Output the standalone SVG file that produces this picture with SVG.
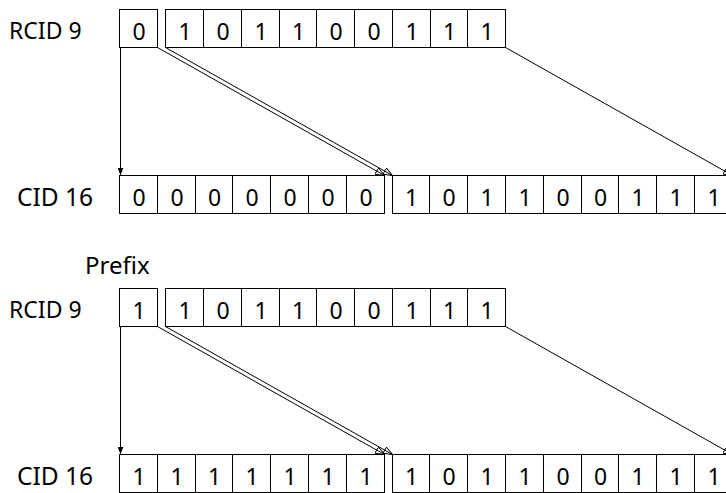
<svg xmlns="http://www.w3.org/2000/svg" width="726" height="493" viewBox="0 0 726 493">
<style>
.cell{fill:#fff;stroke:#000;stroke-width:1}
.bit{font-family:"Noto Sans","Liberation Sans",sans-serif;font-size:23px;fill:#000;text-anchor:middle}
.lbl{font-family:"Noto Sans","Liberation Sans",sans-serif;fill:#000}
.ln{fill:none;stroke:#000;stroke-width:1}
</style>
<defs>
<marker id="af" viewBox="0 0 8 6" refX="8" refY="3" markerWidth="8" markerHeight="6" markerUnits="userSpaceOnUse" orient="auto"><path d="M0,0 L8,3 L0,6 z" fill="#000"/></marker>
<marker id="ao" viewBox="0 0 10 8" refX="9.5" refY="4" markerWidth="10" markerHeight="8" markerUnits="userSpaceOnUse" orient="auto"><path d="M0.5,0.5 L9.5,4 L0.5,7.5 z" fill="none" stroke="#000" stroke-width="1"/></marker>
</defs>

<!-- top half -->
<g id="label-rcid-a"><text class="lbl" x="9" y="39" font-size="23">RCID 9</text></g>
<g id="rcid-a-sign">
<rect class="cell" x="119.5" y="9.5" width="38" height="38"/>
<text class="bit" x="139" y="40">0</text>
</g>
<g id="rcid-a-rest">
<rect class="cell" x="165.5" y="9.5" width="38" height="38"/><text class="bit" x="185" y="40">1</text>
<rect class="cell" x="203.5" y="9.5" width="38" height="38"/><text class="bit" x="223" y="40">0</text>
<rect class="cell" x="241.5" y="9.5" width="38" height="38"/><text class="bit" x="261" y="40">1</text>
<rect class="cell" x="279.5" y="9.5" width="37" height="38"/><text class="bit" x="298.5" y="40">1</text>
<rect class="cell" x="316.5" y="9.5" width="38" height="38"/><text class="bit" x="336" y="40">0</text>
<rect class="cell" x="354.5" y="9.5" width="38" height="38"/><text class="bit" x="374" y="40">0</text>
<rect class="cell" x="392.5" y="9.5" width="38" height="38"/><text class="bit" x="412" y="40">1</text>
<rect class="cell" x="430.5" y="9.5" width="37" height="38"/><text class="bit" x="449.5" y="40">1</text>
<rect class="cell" x="467.5" y="9.5" width="38" height="38"/><text class="bit" x="487" y="40">1</text>
</g>

<g id="label-cid-a"><text class="lbl" x="17" y="206" font-size="24.5">CID 16</text></g>
<g id="cid-a-ext">
<rect class="cell" x="119.5" y="175.5" width="38" height="38"/><text class="bit" x="139" y="206">0</text>
<rect class="cell" x="157.5" y="175.5" width="38" height="38"/><text class="bit" x="177" y="206">0</text>
<rect class="cell" x="195.5" y="175.5" width="37" height="38"/><text class="bit" x="214.5" y="206">0</text>
<rect class="cell" x="232.5" y="175.5" width="38" height="38"/><text class="bit" x="252" y="206">0</text>
<rect class="cell" x="270.5" y="175.5" width="38" height="38"/><text class="bit" x="290" y="206">0</text>
<rect class="cell" x="308.5" y="175.5" width="38" height="38"/><text class="bit" x="328" y="206">0</text>
<rect class="cell" x="346.5" y="175.5" width="38" height="38"/><text class="bit" x="366" y="206">0</text>
</g>
<g id="cid-a-rest">
<rect class="cell" x="392.5" y="175.5" width="37" height="38"/><text class="bit" x="411.5" y="206">1</text>
<rect class="cell" x="429.5" y="175.5" width="38" height="38"/><text class="bit" x="449" y="206">0</text>
<rect class="cell" x="467.5" y="175.5" width="38" height="38"/><text class="bit" x="487" y="206">1</text>
<rect class="cell" x="505.5" y="175.5" width="38" height="38"/><text class="bit" x="525" y="206">1</text>
<rect class="cell" x="543.5" y="175.5" width="38" height="38"/><text class="bit" x="563" y="206">0</text>
<rect class="cell" x="581.5" y="175.5" width="37" height="38"/><text class="bit" x="600.5" y="206">0</text>
<rect class="cell" x="618.5" y="175.5" width="38" height="38"/><text class="bit" x="638" y="206">1</text>
<rect class="cell" x="656.5" y="175.5" width="38" height="38"/><text class="bit" x="676" y="206">1</text>
<rect class="cell" x="694.5" y="175.5" width="38" height="38"/><text class="bit" x="714" y="206">1</text>
</g>

<!-- bottom half -->
<g id="label-prefix"><text class="lbl" x="85" y="274" font-size="24">Prefix</text></g>
<g id="label-rcid-b"><text class="lbl" x="9" y="318" font-size="23">RCID 9</text></g>
<g id="rcid-b-sign">
<rect class="cell" x="119.5" y="288.5" width="38" height="38"/>
<text class="bit" x="139" y="319">1</text>
</g>
<g id="rcid-b-rest">
<rect class="cell" x="165.5" y="288.5" width="38" height="38"/><text class="bit" x="185" y="319">1</text>
<rect class="cell" x="203.5" y="288.5" width="38" height="38"/><text class="bit" x="223" y="319">0</text>
<rect class="cell" x="241.5" y="288.5" width="38" height="38"/><text class="bit" x="261" y="319">1</text>
<rect class="cell" x="279.5" y="288.5" width="37" height="38"/><text class="bit" x="298.5" y="319">1</text>
<rect class="cell" x="316.5" y="288.5" width="38" height="38"/><text class="bit" x="336" y="319">0</text>
<rect class="cell" x="354.5" y="288.5" width="38" height="38"/><text class="bit" x="374" y="319">0</text>
<rect class="cell" x="392.5" y="288.5" width="38" height="38"/><text class="bit" x="412" y="319">1</text>
<rect class="cell" x="430.5" y="288.5" width="37" height="38"/><text class="bit" x="449.5" y="319">1</text>
<rect class="cell" x="467.5" y="288.5" width="38" height="38"/><text class="bit" x="487" y="319">1</text>
</g>

<g id="label-cid-b"><text class="lbl" x="17" y="485" font-size="24.5">CID 16</text></g>
<g id="cid-b-ext">
<rect class="cell" x="119.5" y="454.5" width="38" height="38"/><text class="bit" x="139" y="485">1</text>
<rect class="cell" x="157.5" y="454.5" width="38" height="38"/><text class="bit" x="177" y="485">1</text>
<rect class="cell" x="195.5" y="454.5" width="37" height="38"/><text class="bit" x="214.5" y="485">1</text>
<rect class="cell" x="232.5" y="454.5" width="38" height="38"/><text class="bit" x="252" y="485">1</text>
<rect class="cell" x="270.5" y="454.5" width="38" height="38"/><text class="bit" x="290" y="485">1</text>
<rect class="cell" x="308.5" y="454.5" width="38" height="38"/><text class="bit" x="328" y="485">1</text>
<rect class="cell" x="346.5" y="454.5" width="38" height="38"/><text class="bit" x="366" y="485">1</text>
</g>
<g id="cid-b-rest">
<rect class="cell" x="392.5" y="454.5" width="37" height="38"/><text class="bit" x="411.5" y="485">1</text>
<rect class="cell" x="429.5" y="454.5" width="38" height="38"/><text class="bit" x="449" y="485">0</text>
<rect class="cell" x="467.5" y="454.5" width="38" height="38"/><text class="bit" x="487" y="485">1</text>
<rect class="cell" x="505.5" y="454.5" width="38" height="38"/><text class="bit" x="525" y="485">1</text>
<rect class="cell" x="543.5" y="454.5" width="38" height="38"/><text class="bit" x="563" y="485">0</text>
<rect class="cell" x="581.5" y="454.5" width="37" height="38"/><text class="bit" x="600.5" y="485">0</text>
<rect class="cell" x="618.5" y="454.5" width="38" height="38"/><text class="bit" x="638" y="485">1</text>
<rect class="cell" x="656.5" y="454.5" width="38" height="38"/><text class="bit" x="676" y="485">1</text>
<rect class="cell" x="694.5" y="454.5" width="38" height="38"/><text class="bit" x="714" y="485">1</text>
</g>

<g id="connectors">
<path class="ln" d="M120.5,47.5 V175.5" marker-end="url(#af)"/>
<path class="ln" d="M157.5,47.5 L384.5,175.5" stroke-width="1.6" marker-end="url(#ao)"/>
<path class="ln" d="M165.5,47.5 L392.5,175.5" marker-end="url(#ao)"/>
<path class="ln" d="M505.5,47.5 L732.5,175.5" marker-end="url(#ao)"/>
<path class="ln" d="M120.5,326.5 V454.5" marker-end="url(#af)"/>
<path class="ln" d="M157.5,326.5 L384.5,454.5" stroke-width="1.6" marker-end="url(#ao)"/>
<path class="ln" d="M165.5,326.5 L392.5,454.5" marker-end="url(#ao)"/>
<path class="ln" d="M505.5,326.5 L732.5,454.5" marker-end="url(#ao)"/>
</g>
</svg>
